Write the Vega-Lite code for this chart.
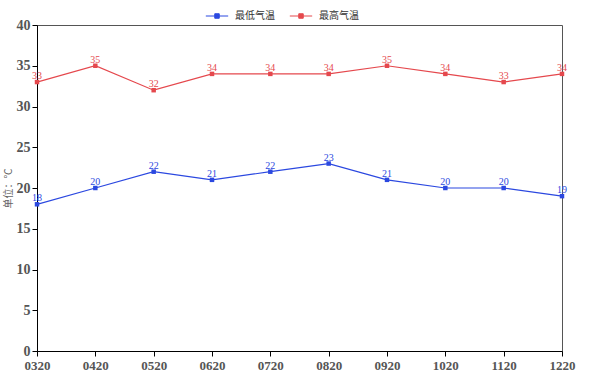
{
  "$schema": "https://vega.github.io/schema/vega-lite/v6.json",
  "width": 525,
  "height": 326,
  "autosize": {"type": "none"},
  "padding": {"left": 37, "top": 25, "right": 36, "bottom": 33},
  "background": "white",
  "config": {
    "view": {"stroke": "#555", "strokeWidth": 1},
    "font": "Liberation Serif"
  },
  "data": {
    "values": [
      {"month": "0320", "series": "最低气温", "temp": 18},
      {"month": "0420", "series": "最低气温", "temp": 20},
      {"month": "0520", "series": "最低气温", "temp": 22},
      {"month": "0620", "series": "最低气温", "temp": 21},
      {"month": "0720", "series": "最低气温", "temp": 22},
      {"month": "0820", "series": "最低气温", "temp": 23},
      {"month": "0920", "series": "最低气温", "temp": 21},
      {"month": "1020", "series": "最低气温", "temp": 20},
      {"month": "1120", "series": "最低气温", "temp": 20},
      {"month": "1220", "series": "最低气温", "temp": 19},
      {"month": "0320", "series": "最高气温", "temp": 33},
      {"month": "0420", "series": "最高气温", "temp": 35},
      {"month": "0520", "series": "最高气温", "temp": 32},
      {"month": "0620", "series": "最高气温", "temp": 34},
      {"month": "0720", "series": "最高气温", "temp": 34},
      {"month": "0820", "series": "最高气温", "temp": 34},
      {"month": "0920", "series": "最高气温", "temp": 35},
      {"month": "1020", "series": "最高气温", "temp": 34},
      {"month": "1120", "series": "最高气温", "temp": 33},
      {"month": "1220", "series": "最高气温", "temp": 34}
    ]
  },
  "encoding": {
    "x": {
      "field": "month", "type": "ordinal",
      "scale": {"type": "point", "padding": 0},
      "axis": {
        "title": null, "labelAngle": 0, "domainColor": "black", "tickColor": "black",
        "labelFont": "Liberation Serif", "labelFontWeight": "bold", "labelFontSize": 13,
        "labelColor": "#555", "tickSize": 5, "labelPadding": 3, "grid": false
      }
    },
    "y": {
      "field": "temp", "type": "quantitative",
      "scale": {"domain": [0, 40], "nice": false},
      "axis": {
        "title": "单位：℃", "titleFont": "Noto Sans CJK SC", "titleFontSize": 10,
        "titleFontWeight": "normal", "titleColor": "#666", "titlePadding": 3,
        "values": [0, 5, 10, 15, 20, 25, 30, 35, 40],
        "domainColor": "black", "tickColor": "black", "tickSize": 5,
        "labelFont": "Liberation Serif", "labelFontWeight": "bold", "labelFontSize": 14,
        "labelColor": "#555", "labelPadding": 2, "grid": false
      }
    },
    "color": {
      "field": "series", "type": "nominal",
      "scale": {"domain": ["最低气温", "最高气温"], "range": ["#2b48e0", "#e5484d"]},
      "legend": {
        "title": null, "orient": "none", "direction": "horizontal",
        "legendX": 168, "legendY": -21,
        "symbolType": "M-1,0H1M-0.2,-0.2H0.2V0.2H-0.2Z",
        "symbolSize": 500, "symbolStrokeWidth": 1,
        "labelFont": "Noto Sans CJK SC", "labelFontSize": 10, "labelColor": "#333",
        "labelOffset": 6, "columnPadding": 12
      }
    }
  },
  "layer": [
    {"mark": {"type": "line", "strokeWidth": 1.2}},
    {"mark": {"type": "square", "filled": true, "size": 20, "opacity": 1}},
    {
      "mark": {"type": "text", "dy": -6, "fontSize": 10, "font": "Liberation Serif"},
      "encoding": {"text": {"field": "temp", "type": "quantitative"}}
    }
  ]
}
